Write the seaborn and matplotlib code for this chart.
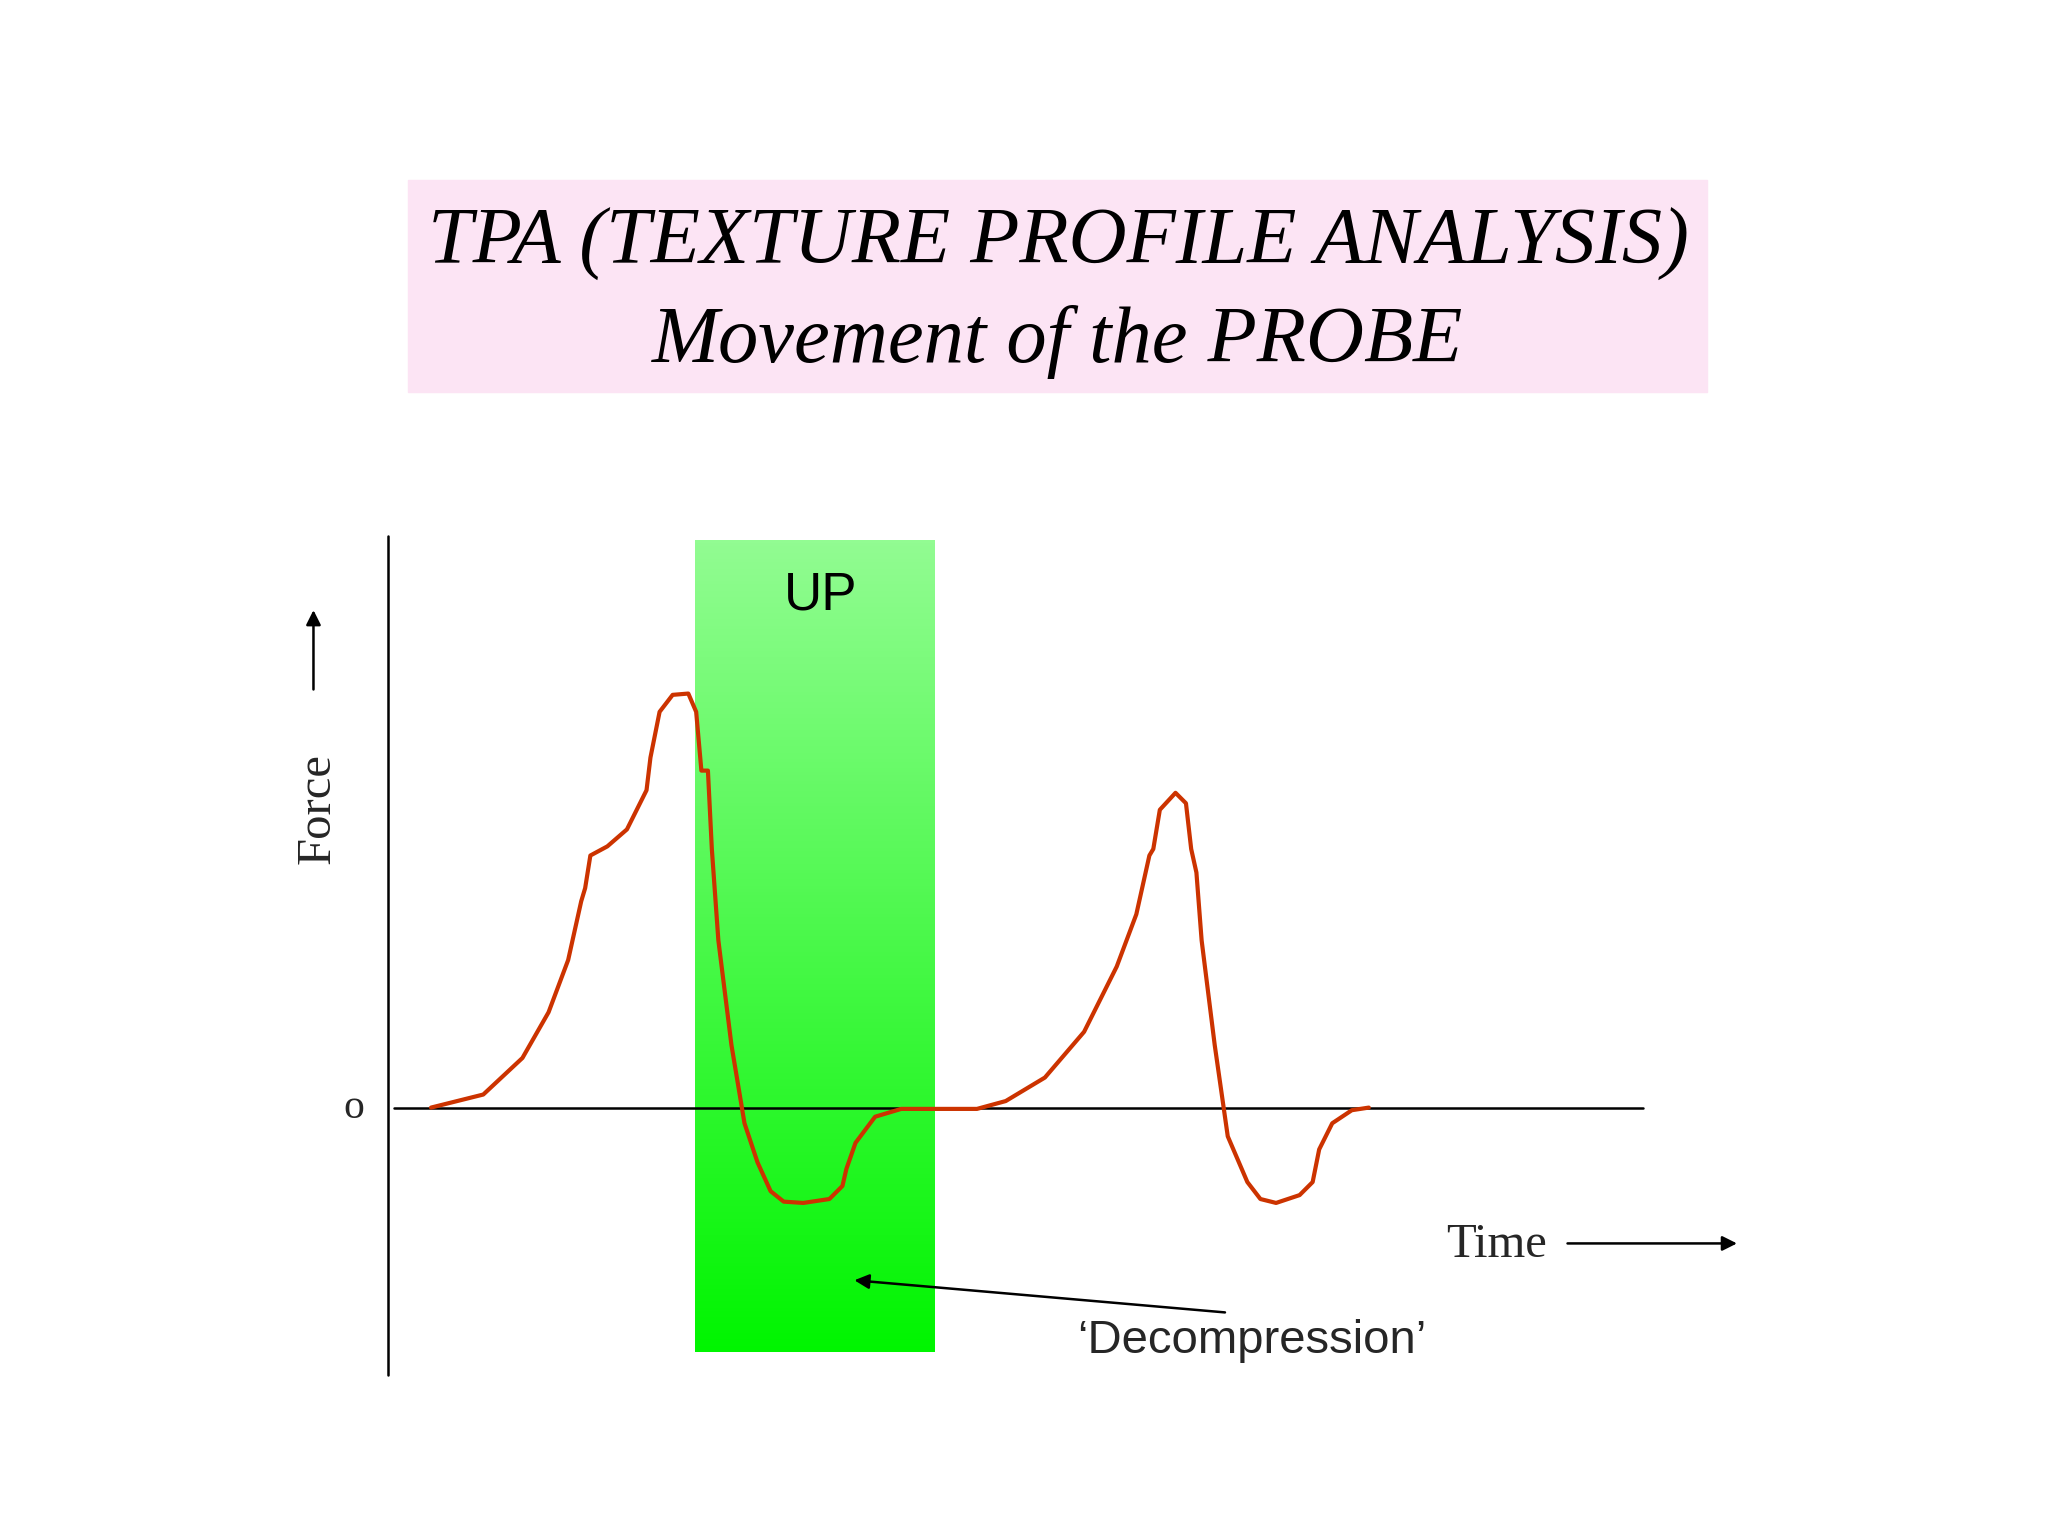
import numpy as np
import matplotlib
matplotlib.use("Agg")
import matplotlib.pyplot as plt
import seaborn as sns
import pandas as pd
from matplotlib.colors import LinearSegmentedColormap

sns.set_theme(style="white")

# time (arbitrary units) and force (arbitrary units, 0 = baseline)
time = [330, 370, 400, 420, 435, 445, 448, 452, 465, 480, 490, 495, 498, 505, 515, 527, 533, 537, 542,
        545, 550, 560, 570, 580, 590, 600, 615, 635, 645, 648, 655, 670, 690, 748, 770, 800, 830, 855,
        870, 880, 883, 888, 900, 908, 912, 916, 920, 930, 940, 955, 965, 977, 995, 1005, 1010, 1020,
        1035, 1048]
ypix = [848, 838, 810, 775, 735, 690, 680, 655, 648, 635, 615, 605, 580, 545, 532, 531, 545, 590, 590,
        650, 720, 800, 860, 890, 912, 920, 921, 918, 908, 895, 875, 855, 849, 849, 843, 825, 790, 740,
        700, 655, 650, 620, 607, 615, 650, 668, 720, 800, 870, 905, 918, 921, 915, 905, 880, 860,
        850, 848]
force = [848 - v for v in ypix]

fig = plt.figure(figsize=(20.48, 15.36), dpi=100)
ax = fig.add_axes([0, 0, 1, 1])
W = 1568
ax.set_xlim(0, W)
ax.set_ylim(848 - 1176, 848)
ax.axis("off")

def Y(p):
    return 848 - p

# title box
ax.add_patch(plt.Rectangle((312, Y(300)), 995, 162, color="#fce4f4", zorder=0))
ax.text(810, Y(187), "TPA (TEXTURE PROFILE ANALYSIS)", ha="center", va="center",
        family="Liberation Serif", style="italic", fontsize=58, color="black")
ax.text(810, Y(262), "Movement of the PROBE", ha="center", va="center",
        family="Liberation Serif", style="italic", fontsize=58, color="black")

# green gradient band
cmap = LinearSegmentedColormap.from_list("g", ["#92fc92", "#00f500"])
grad = np.linspace(0, 1, 256).reshape(-1, 1)
ax.imshow(grad, cmap=cmap, aspect="auto", extent=(532, 715, Y(1035), Y(414)),
          origin="upper", zorder=1)
ax.text(628, Y(456), "UP", ha="center", va="center", family="Liberation Sans",
        fontsize=38, color="black", zorder=3)

# axes lines
ax.plot([297, 297], [Y(410), Y(1053)], color="black", lw=1.8, zorder=2)
ax.plot([302, 1258], [0, 0], color="black", lw=1.8, zorder=2)

df = pd.DataFrame({"time": time, "force": force})
sns.lineplot(data=df, x="time", y="force", sort=False, color="#cc3300", lw=3, ax=ax, zorder=4)
ax.set_xlim(0, W)
ax.set_ylim(848 - 1176, 848)
ax.axis("off")

ax.text(271, 0, "o", ha="center", va="center", family="Liberation Serif", fontsize=30)
ax.text(243, Y(619), "Force", ha="center", va="center", rotation=90,
        family="Liberation Serif", fontsize=35)
ax.annotate("", xy=(240, Y(465)), xytext=(240, Y(530)),
            arrowprops=dict(arrowstyle="-|>", color="black", lw=1.8, mutation_scale=22))
ax.text(1146, Y(953), "Time", ha="center", va="center", family="Liberation Serif", fontsize=35)
ax.annotate("", xy=(1332, Y(952)), xytext=(1198, Y(952)),
            arrowprops=dict(arrowstyle="-|>", color="black", lw=1.8, mutation_scale=22))
ax.text(958, Y(1027), "\u2018Decompression\u2019", ha="center", va="center",
        family="Liberation Sans", fontsize=34)
ax.annotate("", xy=(652, Y(980)), xytext=(940, Y(1005)),
            arrowprops=dict(arrowstyle="-|>", color="black", lw=1.8, mutation_scale=22))

fig.savefig("out.png", dpi=100, facecolor="white")
